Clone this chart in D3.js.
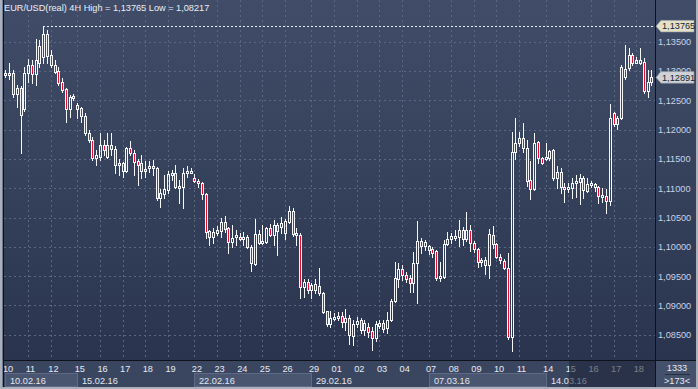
<!DOCTYPE html>
<html><head><meta charset="utf-8">
<script src="https://cdn.jsdelivr.net/npm/d3@7"></script>
<style>html,body{margin:0;padding:0;background:#3a4560;overflow:hidden}svg{display:block}</style>
</head><body>
<script>
const dayNames = ["10","11","12","15","16","17","18","19","22","23","24","25","26","29","01","02","03","04","07","08","09","10","11","14","15","16","17","18"];
const weekLabels = ["10.02.16","15.02.16","22.02.16","29.02.16","07.03.16","14.03.16"];
const weekStartDays = [0,3,8,13,18,23];
const priceTicks = [1.085,1.09,1.095,1.10,1.105,1.11,1.115,1.12,1.125,1.13,1.135];
const titleText = "EUR/USD(real) 4H High = 1,13765 Low = 1,08217";
const periodHigh = 1.13765, periodLow = 1.08217, lastPrice = 1.12891;
const barsTotal = "1333", barsVisible = ">173<";

const open = [1.12971,1.12931,1.12960,1.12607,1.12705,1.12346,1.12960,1.13102,1.12949,1.13141,1.13244,1.13631,1.13273,1.13102,1.13005,1.12817,1.12688,1.12346,1.12539,1.12420,1.12363,1.12232,1.11937,1.11823,1.11510,1.11538,1.11737,1.11538,1.11737,1.11664,1.11396,1.11299,1.11299,1.11686,1.11606,1.11464,1.11435,1.11299,1.11340,1.11379,1.11340,1.10838,1.10901,1.10970,1.11226,1.11264,1.11038,1.11016,1.11264,1.11294,1.11174,1.11128,1.11084,1.10901,1.10270,1.10163,1.10241,1.10270,1.10429,1.10316,1.10088,1.10163,1.10173,1.10139,1.10163,1.10002,1.09707,1.10219,1.10071,1.10088,1.10326,1.10202,1.10373,1.10344,1.10241,1.10429,1.10611,1.10202,1.10202,1.09310,1.09405,1.09264,1.09264,1.09332,1.09207,1.08905,1.08684,1.08781,1.08781,1.08820,1.08723,1.08781,1.08479,1.08684,1.08752,1.08581,1.08637,1.08564,1.08440,1.08655,1.08695,1.08610,1.08752,1.09081,1.09446,1.09617,1.09520,1.09463,1.09388,1.09719,1.10100,1.10014,1.10014,1.09963,1.09929,1.09463,1.09480,1.10048,1.10129,1.10163,1.10163,1.10287,1.10129,1.10287,1.10071,1.09958,1.09746,1.09775,1.09690,1.10202,1.10048,1.09821,1.09763,1.09634,1.08457,1.11623,1.11777,1.11852,1.11681,1.11140,1.10981,1.11783,1.11510,1.11493,1.11510,1.11652,1.11169,1.11272,1.11016,1.10981,1.10998,1.11084,1.11111,1.11169,1.10958,1.11055,1.11067,1.11016,1.10867,1.10862,1.10787,1.12278,1.12096,1.12193,1.12903,1.13046,1.13273,1.13141,1.13131,1.13158,1.12663,1.12817];
const high = [1.13017,1.13141,1.13017,1.12761,1.12744,1.13073,1.13199,1.13187,1.13540,1.13529,1.13765,1.13699,1.13358,1.13187,1.13073,1.12875,1.12705,1.12590,1.12607,1.12449,1.12391,1.12278,1.11993,1.11879,1.11652,1.11942,1.11823,1.11942,1.11937,1.11720,1.11499,1.11452,1.11708,1.11811,1.11652,1.11499,1.11567,1.11469,1.11469,1.11481,1.11367,1.10981,1.11226,1.11294,1.11311,1.11396,1.11140,1.11340,1.11379,1.11340,1.11243,1.11152,1.11111,1.10913,1.10287,1.10316,1.10355,1.10487,1.10526,1.10344,1.10373,1.10287,1.10231,1.10258,1.10202,1.10031,1.10470,1.10287,1.10373,1.10344,1.10390,1.10458,1.10412,1.10504,1.10470,1.10697,1.10657,1.10316,1.10231,1.09443,1.09443,1.09378,1.09443,1.09634,1.09235,1.08911,1.08911,1.08866,1.08893,1.08893,1.08934,1.08837,1.08752,1.08808,1.08781,1.08752,1.08695,1.08637,1.08735,1.08752,1.08752,1.08893,1.09105,1.09746,1.09719,1.09690,1.09576,1.09520,1.09917,1.10446,1.10146,1.10117,1.10031,1.10002,1.09946,1.09746,1.10117,1.10258,1.10231,1.10287,1.10458,1.10344,1.10599,1.10373,1.10105,1.09975,1.09804,1.09821,1.10299,1.10355,1.10071,1.09878,1.09787,1.09900,1.11964,1.12193,1.11954,1.12108,1.11823,1.11469,1.11947,1.11811,1.11528,1.11777,1.11652,1.11664,1.11379,1.11340,1.11094,1.11094,1.11169,1.11226,1.11243,1.11208,1.11169,1.11128,1.11094,1.11038,1.10998,1.10981,1.12437,1.12305,1.12232,1.13102,1.13443,1.13387,1.13302,1.13244,1.13387,1.13216,1.13017,1.13017];
const low = [1.12897,1.12858,1.12551,1.12380,1.11596,1.12322,1.12817,1.12790,1.12761,1.13073,1.13131,1.13131,1.13073,1.12960,1.12761,1.12647,1.12135,1.12220,1.12505,1.12193,1.12135,1.11908,1.11794,1.11481,1.11396,1.11481,1.11567,1.11516,1.11567,1.11260,1.11226,1.11186,1.11282,1.11567,1.11226,1.11055,1.11169,1.11186,1.11282,1.11226,1.10799,1.10685,1.10828,1.10913,1.11140,1.10998,1.10743,1.10657,1.11196,1.11254,1.11111,1.11026,1.10811,1.10146,1.10031,1.10071,1.10202,1.10173,1.10258,1.09890,1.10002,1.10031,1.10117,1.10031,1.09975,1.09593,1.09690,1.10048,1.10048,1.10060,1.10185,1.10031,1.09861,1.10231,1.10129,1.10412,1.10185,1.10031,1.09122,1.09149,1.09207,1.09122,1.09207,1.09178,1.08866,1.08649,1.08637,1.08752,1.08752,1.08637,1.08581,1.08342,1.08325,1.08637,1.08525,1.08496,1.08467,1.08240,1.08399,1.08610,1.08552,1.08535,1.08740,1.09064,1.09320,1.09434,1.09405,1.09235,1.09235,1.09037,1.09900,1.09946,1.09878,1.09832,1.09434,1.09422,1.09463,1.10031,1.10060,1.10117,1.10014,1.10031,1.10105,1.09934,1.09917,1.09661,1.09673,1.09537,1.09463,1.09975,1.09804,1.09719,1.09617,1.08423,1.08217,1.11493,1.11720,1.11623,1.11038,1.10811,1.10970,1.11425,1.11413,1.11481,1.11481,1.11140,1.10998,1.10924,1.10770,1.10941,1.10828,1.10845,1.10731,1.10828,1.10941,1.11016,1.10958,1.10743,1.10770,1.10582,1.10714,1.12061,1.12005,1.12181,1.12863,1.13017,1.13102,1.13131,1.13119,1.12619,1.12561,1.12761];
const close = [1.12931,1.12971,1.12607,1.12705,1.12249,1.12960,1.13102,1.12949,1.13187,1.13426,1.13631,1.13256,1.13102,1.12988,1.12800,1.12676,1.12346,1.12561,1.12573,1.12346,1.12232,1.11937,1.11823,1.11510,1.11567,1.11737,1.11652,1.11737,1.11664,1.11396,1.11435,1.11435,1.11686,1.11601,1.11452,1.11396,1.11299,1.11328,1.11379,1.11340,1.10838,1.10918,1.10981,1.11243,1.11264,1.11016,1.11016,1.11264,1.11299,1.11302,1.11128,1.11084,1.10901,1.10258,1.10163,1.10258,1.10287,1.10429,1.10299,1.10088,1.10156,1.10202,1.10139,1.10173,1.09992,1.09719,1.10219,1.10071,1.10105,1.10326,1.10202,1.10373,1.10270,1.10412,1.10446,1.10611,1.10219,1.10241,1.09310,1.09405,1.09264,1.09349,1.09366,1.09207,1.08893,1.08684,1.08781,1.08798,1.08820,1.08723,1.08781,1.08496,1.08684,1.08740,1.08581,1.08706,1.08552,1.08440,1.08684,1.08706,1.08593,1.08752,1.09081,1.09463,1.09617,1.09520,1.09446,1.09388,1.09719,1.10100,1.10014,1.10077,1.09946,1.09900,1.09463,1.09502,1.10048,1.10129,1.10185,1.10185,1.10287,1.10129,1.10287,1.10060,1.09958,1.09746,1.09775,1.09690,1.10219,1.10048,1.09821,1.09775,1.09634,1.08457,1.11623,1.11777,1.11852,1.11681,1.11128,1.10981,1.11777,1.11510,1.11425,1.11528,1.11640,1.11169,1.11272,1.11016,1.10981,1.11016,1.11084,1.11123,1.11169,1.10970,1.11072,1.11084,1.11016,1.10872,1.10876,1.10787,1.12193,1.12096,1.12193,1.13073,1.13029,1.13273,1.13131,1.13187,1.13187,1.12663,1.12817,1.12891];

const W = 698, H = 389;
const FONT = "'Liberation Sans', Arial, sans-serif";
const plotRight = 655, axisY = 360;

// bar slots: 6 four-hour bars per day, a short Sunday bar before each new week
const keys = [], dayFirstKey = [];
dayNames.forEach((d, i) => {
  if (i > 0 && weekStartDays.includes(i)) keys.push("sun" + i);
  for (let h = 0; h < 6; h++) { const k = i + "-" + h; if (h === 0) dayFirstKey.push(k); keys.push(k); }
});
const barKeys = keys.slice(0, open.length);

const x = d3.scaleBand().domain(keys).range([4.1, 4.1 + keys.length * 3.777]);
const bw = x.bandwidth();
const cx = k => Math.floor(x(k) + bw / 2);
const y = d3.scaleLinear().domain([1.085, 1.135]).range([334.7, 41.7]);
const fmt = v => d3.format(".5f")(v).replace(".", ",");

const svg = d3.select("body").append("svg").attr("width", W).attr("height", H)
  .style("font-family", FONT);
const defs = svg.append("defs");
const grad = defs.append("linearGradient").attr("id", "bg").attr("gradientUnits", "userSpaceOnUse")
  .attr("x1", 0).attr("y1", 0).attr("x2", 0).attr("y2", axisY);
grad.append("stop").attr("offset", 0).attr("stop-color", "#414d68");
grad.append("stop").attr("offset", 1).attr("stop-color", "#2a344e");
defs.append("clipPath").attr("id", "clip").append("rect")
  .attr("x", 4).attr("y", 0).attr("width", plotRight - 4).attr("height", axisY);

svg.append("rect").attr("width", W).attr("height", axisY).attr("fill", "url(#bg)");
svg.append("rect").attr("y", axisY).attr("width", W).attr("height", H - axisY).attr("fill", "#3a4560");

// grid
const grid = svg.append("g").attr("stroke", "#5a6682").attr("stroke-dasharray", "2,3").attr("shape-rendering", "crispEdges");
grid.selectAll("line.h").data(priceTicks).join("line").attr("class", "h")
  .attr("x1", 4).attr("x2", plotRight).attr("y1", d => Math.round(y(d)) + 0.5).attr("y2", d => Math.round(y(d)) + 0.5);
grid.selectAll("line.v").data(dayFirstKey.slice(1)).join("line").attr("class", "v")
  .attr("x1", d => cx(d) + 0.5).attr("x2", d => cx(d) + 0.5).attr("y1", 0).attr("y2", axisY);

// highest-high dashed line
const yHigh = Math.round(y(periodHigh)) + 0.5;
const hiIdx = high.indexOf(d3.max(high));
svg.append("line").attr("x1", cx(barKeys[hiIdx])).attr("x2", plotRight).attr("y1", yHigh).attr("y2", yHigh)
  .attr("stroke", "#e8edf5").attr("stroke-dasharray", "2,2").attr("shape-rendering", "crispEdges");

// candles
const data = barKeys.map((k, i) => ({ k, o: open[i], h: high[i], l: low[i], c: close[i] }));
const cg = svg.append("g").attr("clip-path", "url(#clip)").attr("shape-rendering", "crispEdges");
const geo = d => {
  const top = Math.round(y(Math.max(d.o, d.c)));
  let bot = Math.round(y(Math.min(d.o, d.c)));
  if (bot - top < 2) bot = top + 2;
  return { c: cx(d.k), top, bot, yh: Math.round(y(d.h)), yl: Math.round(y(d.l)) };
};
cg.selectAll("line.wu").data(data).join("line").attr("class", "wu")
  .attr("x1", d => geo(d).c + 0.5).attr("x2", d => geo(d).c + 0.5)
  .attr("y1", d => Math.min(geo(d).yh, geo(d).top)).attr("y2", d => geo(d).top)
  .attr("stroke", "#f4f6fa");
cg.selectAll("line.wl").data(data).join("line").attr("class", "wl")
  .attr("x1", d => geo(d).c + 0.5).attr("x2", d => geo(d).c + 0.5)
  .attr("y1", d => geo(d).bot + 1).attr("y2", d => Math.max(geo(d).yl + 1, geo(d).bot + 1))
  .attr("stroke", "#f4f6fa");
cg.selectAll("rect.body").data(data).join("rect").attr("class", "body")
  .attr("x", d => geo(d).c - 0.5).attr("y", d => geo(d).top + 0.5)
  .attr("width", 2).attr("height", d => geo(d).bot - geo(d).top)
  .attr("fill", d => d.c >= d.o ? "none" : "#e0102f")
  .attr("stroke", "#f4f6fa").attr("stroke-width", 1);

// right price axis
const ax = svg.append("g").attr("transform", `translate(658,0)`)
  .call(d3.axisRight(y).tickValues(priceTicks).tickFormat(fmt).tickSize(0).tickPadding(0));
ax.select(".domain").remove();
ax.selectAll("text").attr("x", 0).attr("fill", "#c6d3ea").style("font-size", "9.2px").style("font-family", FONT);

// bottom day axis
const bx = svg.append("g").attr("transform", `translate(0,${axisY})`)
  .call(d3.axisBottom(x).tickValues(dayFirstKey).tickFormat((k, i) => dayNames[i]).tickSize(0).tickPadding(0));
bx.select(".domain").remove();
bx.selectAll("text").attr("text-anchor", "start").attr("x", -3 - 0).attr("y", 11.5).attr("dy", 0)
  .attr("fill", "#e6ebf3").style("font-size", "9.2px").style("font-family", FONT);

// week blocks
const weekStartX = weekStartDays.map(i => cx(dayFirstKey[i]));
const wk = svg.append("g").attr("shape-rendering", "crispEdges");
weekLabels.forEach((lab, i) => {
  const x0 = weekStartX[i], x1 = i + 1 < weekStartX.length ? weekStartX[i + 1] : plotRight;
  if (i % 2 === 0) {
    wk.append("rect").attr("x", x0 + 0.5).attr("y", 373.5).attr("width", x1 - x0).attr("height", 12.5)
      .attr("fill", "#4a5570").attr("stroke", "#5e6a85");
  }
  wk.append("text").attr("x", x0 + 5).attr("y", 383.5).text(lab)
    .attr("fill", "#e2e7ef").style("font-size", "9.2px");
});

// dimmed area of bottom axis (future / scroll region)
const dimX = cx(dayFirstKey[24]) + 1;
svg.append("rect").attr("x", dimX).attr("y", axisY + 1).attr("width", plotRight - dimX).attr("height", 26)
  .attr("fill", "#1b2335").attr("opacity", 0.55);

// frame lines
const frame = svg.append("g").attr("shape-rendering", "crispEdges");
frame.append("line").attr("x1", 3.5).attr("x2", 3.5).attr("y1", 0).attr("y2", 387).attr("stroke", "#0e121a");
frame.append("line").attr("x1", 3).attr("x2", 696).attr("y1", axisY + 0.5).attr("y2", axisY + 0.5).attr("stroke", "#0e121a");
frame.append("line").attr("x1", plotRight + 0.5).attr("x2", plotRight + 0.5).attr("y1", 0).attr("y2", 387).attr("stroke", "#0e121a");

// corner panel
svg.append("rect").attr("x", 656).attr("y", 361).attr("width", 40).attr("height", 26).attr("fill", "#45506b");
svg.append("text").attr("x", 677).attr("y", 371).attr("text-anchor", "middle").text(barsTotal)
  .attr("fill", "#e6ebf3").style("font-size", "9.2px");
svg.append("line").attr("x1", 665).attr("x2", 690).attr("y1", 374.5).attr("y2", 374.5).attr("stroke", "#262e42");
svg.append("text").attr("x", 677).attr("y", 384).attr("text-anchor", "middle").text(barsVisible)
  .attr("fill", "#e6ebf3").style("font-size", "9.2px");

// price tags
function tag(price, fill) {
  const yc = y(price);
  const g = svg.append("g");
  g.append("path").attr("d", `M656,${yc} L661,${yc - 5.8} L694,${yc - 5.8} L694,${yc + 5.8} L661,${yc + 5.8} Z`)
    .attr("fill", fill).attr("stroke", "#8d9099").attr("stroke-width", 0.6);
  g.append("text").attr("x", 662).attr("y", yc + 3.3).text(fmt(price))
    .attr("fill", "#1a1e28").style("font-size", "9.2px");
}
tag(periodHigh, "#e4e1c9");
tag(lastPrice, "#cfd2d7");

// outer light border
const bd = svg.append("g").attr("fill", "#aab1bc");
bd.append("rect").attr("x", 0).attr("y", 0).attr("width", 2.5).attr("height", H);
bd.append("rect").attr("x", 696).attr("y", 0).attr("width", 2).attr("height", H);
bd.append("rect").attr("x", 0).attr("y", 387).attr("width", W).attr("height", 2);

// title
svg.append("text").attr("x", 4).attr("y", 11).text(titleText)
  .attr("fill", "#e9eef5").style("font-size", "9.2px");
</script>
</body></html>
